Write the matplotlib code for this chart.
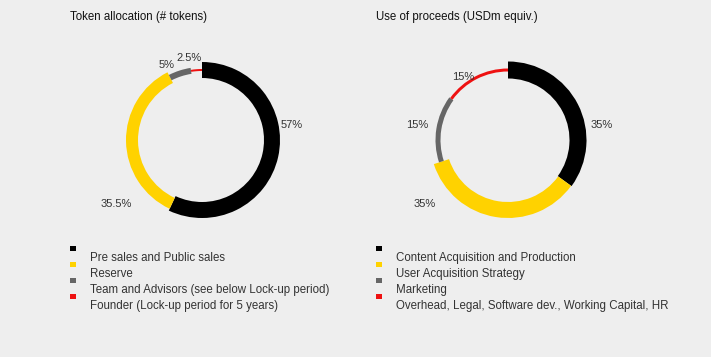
import matplotlib.pyplot as plt
from matplotlib.patches import Wedge, Rectangle

# --- data ---
token_labels = ['Pre sales and Public sales', 'Reserve',
                'Team and Advisors (see below Lock-up period)',
                'Founder (Lock-up period for 5 years)']
token_values = [57, 35.5, 5, 2.5]

proceeds_labels = ['Content Acquisition and Production', 'User Acquisition Strategy',
                   'Marketing', 'Overhead, Legal, Software dev., Working Capital, HR']
proceeds_values = [35, 35, 15, 15]

# --- style ---
BG = '#eeeeee'
COLORS = ['#000000', '#ffd200', '#666666', '#ee1111']
TXT = '#333333'
plt.rcParams['font.family'] = ['Liberation Sans', 'DejaVu Sans']

W, H = 711, 357
fig = plt.figure(figsize=(W / 100, H / 100), dpi=100, facecolor=BG)
ax = fig.add_axes([0, 0, 1, 1])
ax.set_xlim(0, W)
ax.set_ylim(0, H)
ax.axis('off')
ax.set_facecolor(BG)


def py(y):
    # pixel row (from top) -> data y
    return H - y


def donut(cx, cy, values, widths, label_pos, mid_r=70):
    start = 90.0
    total = float(sum(values))
    for v, c, w, (lx, ly) in zip(values, COLORS, widths, label_pos):
        end = start - 360.0 * v / total
        ax.add_patch(Wedge((cx, py(cy)), mid_r + w / 2, end, start, width=w,
                           facecolor=c, edgecolor='none'))
        ax.text(lx, py(ly), f'{v:g}%', fontsize=8, color=TXT,
                ha='center', va='center')
        start = end


def legend(x, labels):
    sq_y = [248, 264, 280, 296]
    txt_y = [258, 274, 290, 306]
    for c, sy in zip(COLORS, sq_y):
        ax.add_patch(Rectangle((x, py(sy) - 2.5), 6, 5, facecolor=c, edgecolor='none'))
    for lab, ty in zip(labels, txt_y):
        ax.text(x + 20, py(ty), lab, fontsize=8.3, color=TXT, ha='left', va='center')


ax.text(70, py(17), 'Token allocation (# tokens)', fontsize=8.3, color='#111111',
        ha='left', va='center')
ax.text(376, py(17), 'Use of proceeds (USDm equiv.)', fontsize=8.3, color='#111111',
        ha='left', va='center')

donut(202, 140, token_values, [16, 12, 6, 2],
      [(292, 125), (116, 204), (167, 65), (189, 58)])
donut(508, 140, proceeds_values, [17, 16, 5, 3],
      [(602, 125), (425, 204), (417, 125), (463, 77)])

legend(70, token_labels)
legend(376, proceeds_labels)

fig.savefig('out.png', dpi=100, facecolor=BG)
